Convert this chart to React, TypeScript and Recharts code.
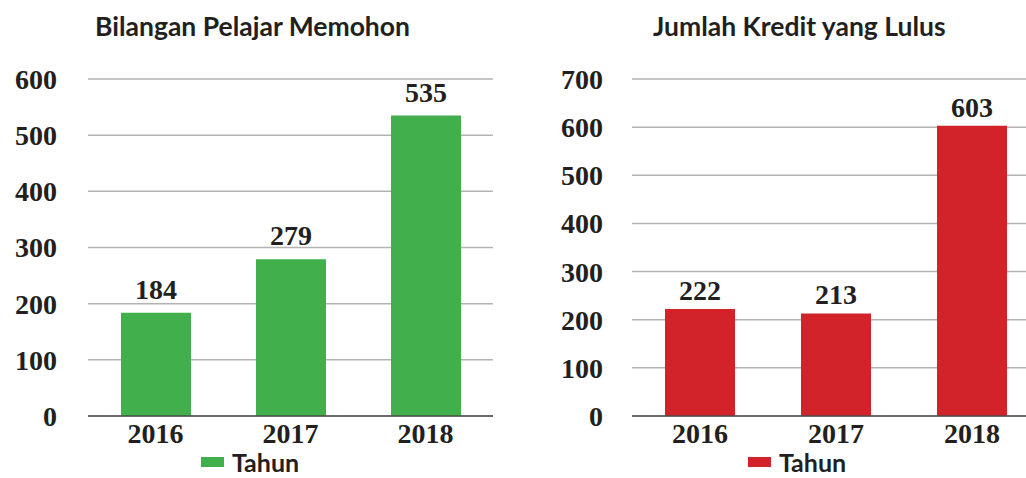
import { BarChart, Bar, XAxis, YAxis, CartesianGrid, Legend, LabelList } from "recharts";

const years = ["2016", "2017", "2018"];
const pelajarMemohon = [184, 279, 535];
const kreditLulus = [222, 213, 603];
const leftTicks = [0, 100, 200, 300, 400, 500, 600];
const rightTicks = [0, 100, 200, 300, 400, 500, 600, 700];

const GREEN = "#41af4b";
const RED = "#d2232a";
const TEXT = "#231f20";
const SERIF = "'Liberation Serif', serif";
const SANS = "Lato, 'Open Sans', sans-serif";

const leftData = years.map((y, i) => ({ tahun: y, nilai: pelajarMemohon[i] }));
const rightData = years.map((y, i) => ({ tahun: y, nilai: kreditLulus[i] }));

const tickStyle = { fontFamily: SERIF, fontWeight: 700, fontSize: 28, fill: TEXT };

function LegendBox({ color }: { color: string }) {
  return (
    <div style={{ display: "flex", justifyContent: "center", alignItems: "center", height: 28 }}>
      <span style={{ display: "inline-block", width: 23, height: 10, background: color, marginRight: 8 }} />
      <span style={{ fontFamily: SANS, fontWeight: 700, fontSize: 25, lineHeight: "28px", color: TEXT }}>
        Tahun
      </span>
    </div>
  );
}

interface PanelProps {
  data: { tahun: string; nilai: number }[];
  ticks: number[];
  color: string;
  axisWidth: number;
  tickMargin: number;
  width: number;
  marginRight: number;
  legendWidth: number;
  labelOffset: number;
}

function Panel({ data, ticks, color, axisWidth, tickMargin, width, marginRight, legendWidth, labelOffset }: PanelProps) {
  return (
    <BarChart
      width={width}
      height={478}
      data={data}
      margin={{ top: 79, right: marginRight, left: 0, bottom: 22 }}
    >
      <CartesianGrid vertical={false} stroke="#b3b3b3" strokeWidth={1.5} />
      <XAxis
        dataKey="tahun"
        height={40}
        tickLine={false}
        axisLine={{ stroke: "#4d4d4d", strokeWidth: 1.5 }}
        tickMargin={1}
        tick={tickStyle}
      />
      <YAxis
        width={axisWidth}
        domain={[0, ticks[ticks.length - 1]]}
        ticks={ticks}
        interval={0}
        axisLine={false}
        tickLine={false}
        tickMargin={tickMargin}
        tick={tickStyle}
      />
      <Legend
        layout="horizontal"
        verticalAlign="middle"
        align="center"
        wrapperStyle={{ top: 448, left: 0, width: legendWidth, height: 28 }}
        content={() => <LegendBox color={color} />}
      />
      <Bar dataKey="nilai" name="Tahun" fill={color} barSize={70} isAnimationActive={false}>
        <LabelList
          dataKey="nilai"
          position="top"
          offset={labelOffset}
          style={{ fontFamily: SERIF, fontWeight: 700, fontSize: 28, fill: TEXT }}
        />
      </Bar>
    </BarChart>
  );
}

const titleStyle = {
  position: "absolute" as const,
  top: 11,
  fontFamily: SANS,
  fontWeight: 700,
  fontSize: 26.5,
  lineHeight: "30px",
  color: TEXT,
  whiteSpace: "nowrap" as const,
};

export default function App() {
  return (
    <div
      style={{
        position: "absolute",
        left: 0,
        top: 0,
        width: 1026,
        height: 478,
        overflow: "hidden",
        background: "#fff",
      }}
    >
      <div style={{ ...titleStyle, left: 95 }}>Bilangan Pelajar Memohon</div>
      <div style={{ ...titleStyle, left: 653 }}>Jumlah Kredit yang Lulus</div>
      <div style={{ position: "absolute", left: 0, top: 0 }}>
        <Panel
          data={leftData}
          ticks={leftTicks}
          color={GREEN}
          axisWidth={88}
          tickMargin={25}
          width={500}
          marginRight={7}
          legendWidth={500}
          labelOffset={14}
        />
      </div>
      <div style={{ position: "absolute", left: 520, top: 0 }}>
        <Panel
          data={rightData}
          ticks={rightTicks}
          color={RED}
          axisWidth={112}
          tickMargin={23}
          width={520}
          marginRight={0}
          legendWidth={554}
          labelOffset={9}
        />
      </div>
    </div>
  );
}
